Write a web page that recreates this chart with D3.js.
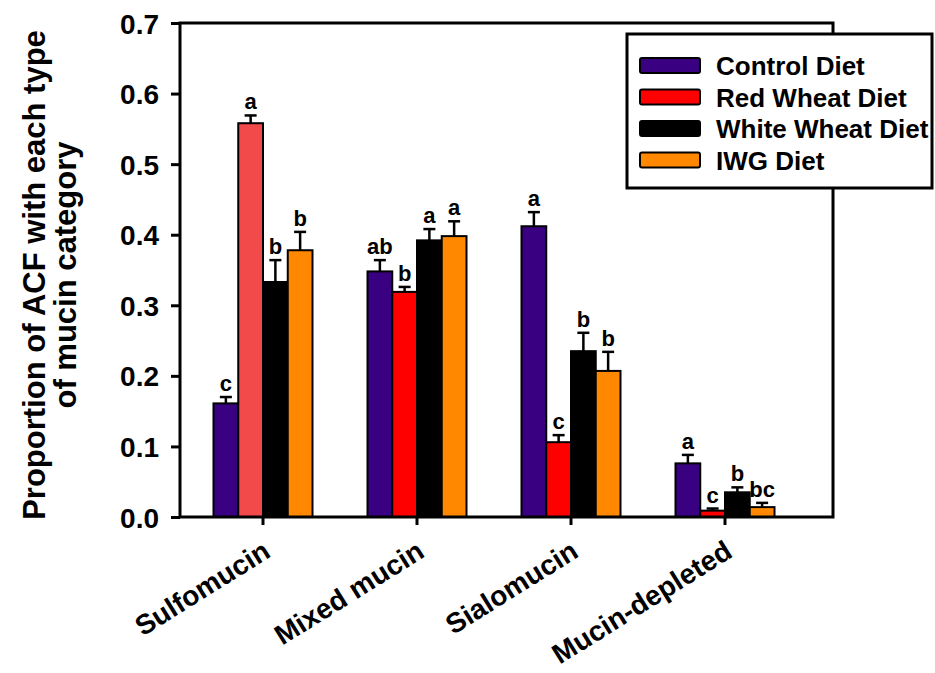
<!DOCTYPE html>
<html>
<head>
<meta charset="utf-8">
<script src="https://cdn.jsdelivr.net/npm/d3@7"></script>
<style>
  body { margin: 0; background: #fff; }
  svg { display: block; font-family: "Liberation Sans", Arial, sans-serif; font-weight: bold; }
</style>
</head>
<body>
<svg id="chart" width="935" height="673"></svg>
<script>
// Categories and series
const categories = ["Sulfomucin", "Mixed mucin", "Sialomucin", "Mucin-depleted"];
const diets = ["Control Diet", "Red Wheat Diet", "White Wheat Diet", "IWG Diet"];

// mean proportion per diet, one entry per category
const controlMeans = [0.161, 0.348, 0.412, 0.076];
const redMeans = [0.558, 0.319, 0.106, 0.009];
const whiteMeans = [0.333, 0.392, 0.235, 0.035];
const iwgMeans = [0.378, 0.398, 0.207, 0.014];

// standard error (upper bar only)
const controlErr = [0.009, 0.016, 0.020, 0.012];
const redErr = [0.011, 0.007, 0.010, 0.003];
const whiteErr = [0.031, 0.016, 0.026, 0.007];
const iwgErr = [0.026, 0.021, 0.027, 0.006];

// significance letters
const controlLetters = ["c", "ab", "a", "a"];
const redLetters = ["a", "b", "c", "c"];
const whiteLetters = ["b", "a", "b", "b"];
const iwgLetters = ["b", "a", "b", "bc"];

const yTicks = [0, 0.1, 0.2, 0.3, 0.4, 0.5, 0.6, 0.7];

const colors = ["#3a0082", "#ff0000", "#000000", "#ff8800"];

const means = [controlMeans, redMeans, whiteMeans, iwgMeans];
const errs = [controlErr, redErr, whiteErr, iwgErr];
const letters = [controlLetters, redLetters, whiteLetters, iwgLetters];

const data = [];
categories.forEach((c, ci) => {
  diets.forEach((d, di) => {
    data.push({ cat: c, diet: d, di: di, v: means[di][ci], e: errs[di][ci], l: letters[di][ci] });
  });
});

// Layout
const plot = { left: 180, right: 833, top: 23, bottom: 517 };

const svg = d3.select("#chart");

const x = d3.scaleBand().domain(categories).range([186, 802]);
const xInner = d3.scaleBand().domain(diets).range([0, 99]).padding(0);
const y = d3.scaleLinear().domain([0, 0.7]).range([plot.bottom, plot.top]);

const g = svg.append("g");

const barX = d => x(d.cat) + x.bandwidth() / 2 - 49.5 + xInner(d.diet);

// error bars (drawn first so the bar outline sits on the stem bottom)
g.selectAll("line.err")
  .data(data)
  .join("line")
  .attr("class", "err")
  .attr("x1", d => barX(d) + xInner.bandwidth() / 2)
  .attr("x2", d => barX(d) + xInner.bandwidth() / 2)
  .attr("y1", d => y(d.v))
  .attr("y2", d => y(d.v + d.e))
  .style("stroke", "black")
  .style("stroke-width", 2.5);

g.selectAll("line.cap")
  .data(data)
  .join("line")
  .attr("class", "cap")
  .attr("x1", d => barX(d) + xInner.bandwidth() / 2 - 6)
  .attr("x2", d => barX(d) + xInner.bandwidth() / 2 + 6)
  .attr("y1", d => y(d.v + d.e))
  .attr("y2", d => y(d.v + d.e))
  .style("stroke", "black")
  .style("stroke-width", 2.5);

g.selectAll("rect.bar")
  .data(data)
  .join("rect")
  .attr("class", "bar")
  .attr("x", d => barX(d))
  .attr("y", d => y(d.v))
  .attr("width", xInner.bandwidth())
  .attr("height", d => y(0) - y(d.v))
  // the big red bar in the reference is a lighter red
  .style("fill", d => (d.di == 1 && d.cat == "Sulfomucin") ? "#f24a4a" : colors[d.di])
  .style("stroke", "black")
  .style("stroke-width", 2);

// Letters
g.selectAll("text.sig")
  .data(data)
  .join("text")
  .attr("class", "sig")
  .attr("x", d => barX(d) + xInner.bandwidth() / 2)
  .attr("y", d => y(d.v + d.e) - 6)
  .attr("text-anchor", "middle")
  .style("font-size", "22px")
  .text(d => d.l);

// Frame
g.append("rect")
  .attr("x", plot.left)
  .attr("y", plot.top)
  .attr("width", plot.right - plot.left)
  .attr("height", plot.bottom - plot.top)
  .style("fill", "none")
  .style("stroke", "black")
  .style("stroke-width", 3);

// Y axis
const yAxis = svg.append("g")
  .attr("transform", `translate(${plot.left},0)`)
  .call(d3.axisLeft(y).tickValues(yTicks).tickFormat(d3.format(".1f")).tickSize(9).tickPadding(12));
yAxis.select(".domain").remove();
yAxis.selectAll("line").style("stroke", "black").style("stroke-width", 3);
yAxis.selectAll("text")
  .style("font-size", "28px")
  .style("font-family", "Liberation Sans, Arial, sans-serif")
  .style("font-weight", "bold")
  .attr("dy", "0.36em");

// X axis
const xAxis = svg.append("g")
  .attr("transform", `translate(0,${plot.bottom})`)
  .call(d3.axisBottom(x).tickSize(8).tickPadding(4));
xAxis.select(".domain").remove();
xAxis.selectAll("line").style("stroke", "black").style("stroke-width", 3);
xAxis.selectAll("text")
  .style("font-size", "28px")
  .style("font-family", "Liberation Sans, Arial, sans-serif")
  .style("font-weight", "bold")
  .style("text-anchor", "end")
  .attr("y", 0)
  .attr("dy", 0)
  .attr("transform", "translate(9,39) rotate(-32)");

// Y label
const yl = svg.append("text")
  .attr("transform", "translate(45,275) rotate(-90)")
  .attr("text-anchor", "middle")
  .style("font-size", "31px");
yl.append("tspan").attr("x", 0).attr("dy", 0).text("Proportion of ACF with each type");
yl.append("tspan").attr("x", 0).attr("dy", 31).text("of mucin category");

// Legend
const legend = svg.append("g").attr("transform", "translate(627,34)");
legend.append("rect")
  .attr("width", 305)
  .attr("height", 154)
  .style("fill", "white")
  .style("stroke", "black")
  .style("stroke-width", 3);

const lg = legend.selectAll("g.item")
  .data(diets)
  .join("g")
  .attr("class", "item")
  .attr("transform", (d, i) => `translate(13,${32 + i * 31.5})`);
lg.append("rect")
  .attr("x", 0)
  .attr("y", -8)
  .attr("width", 60)
  .attr("height", 15)
  .attr("rx", 2)
  .style("fill", (d, i) => colors[i])
  .style("stroke", "black")
  .style("stroke-width", 2);
lg.append("text")
  .attr("x", 76)
  .attr("y", 0)
  .attr("dy", "0.36em")
  .style("font-size", "26px")
  .text(d => d);
</script>
</body>
</html>
